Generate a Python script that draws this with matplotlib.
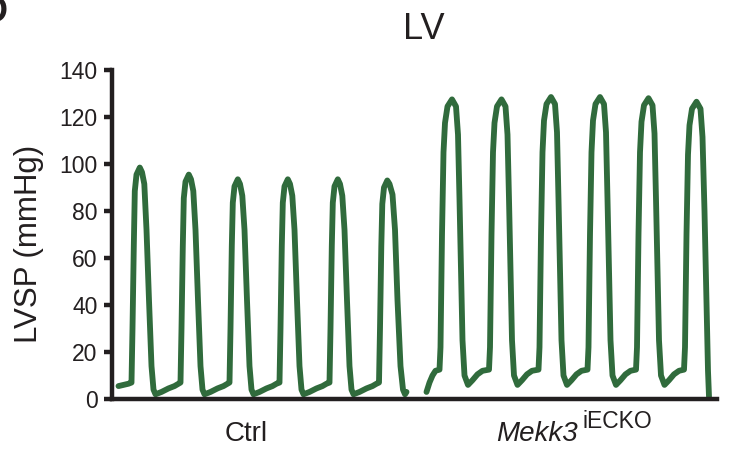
import matplotlib
matplotlib.use("Agg")
import matplotlib.pyplot as plt

# LV pressure traces (time in arbitrary units, pressure in mmHg)
ctrl_t = [7, 12, 17,
          20, 21, 22.3, 23.3, 25, 28.3, 30.5, 32.8, 35, 37.5, 40, 42, 44, 50, 57, 63, 67,
          69, 70, 71.3, 72.3, 74, 77.3, 79.5, 81.8, 84, 86.5, 89, 91, 93, 99, 106, 112, 116,
          118, 119, 120.3, 121.3, 123, 126.3, 128.5, 130.8, 133, 135.5, 138, 140, 142, 148, 155, 161, 165,
          168, 169, 170.3, 171.3, 173, 176.3, 178.5, 180.8, 183, 185.5, 188, 190, 192, 198, 205, 211, 215,
          218, 219, 220.3, 221.3, 223, 226.3, 228.5, 230.8, 233, 235.5, 238, 240, 242, 248, 255, 261, 265,
          267.5, 268.5, 269.8, 270.8, 272.5, 275.8, 278, 281, 283.5, 286, 289, 291.5, 293.5, 295]
ctrl_p = [5.5, 6, 6.5,
          7, 30, 65, 88.5, 95.5, 98.5, 96.5, 91.5, 72, 42, 14, 4, 2, 3, 4.5, 5.5, 6.5,
          7, 30, 65, 85.5, 92.5, 95.5, 93.5, 88.5, 72, 42, 14, 4, 2, 3, 4.5, 5.5, 6.5,
          7, 30, 65, 83.5, 90.5, 93.5, 91.5, 86.5, 72, 42, 14, 4, 2, 3, 4.5, 5.5, 6.5,
          7, 30, 65, 83.5, 90.5, 93.5, 91.5, 86.5, 72, 42, 14, 4, 2, 3, 4.5, 5.5, 6.5,
          7, 30, 65, 83.5, 90.5, 93.5, 91.5, 86.5, 72, 42, 14, 4, 2, 3, 4.5, 5.5, 6.5,
          7, 30, 65, 83, 90, 93, 91.5, 87, 72, 42, 14, 4, 2, 3]

mekk_t = [315, 318, 321, 324,
          328, 329, 330.5, 332, 333.5, 336, 340.5, 344.5, 346.5, 348, 349.5, 351, 353, 356.5, 361, 366, 371,
          377.5, 378.5, 380, 381.5, 383, 385.5, 390, 394, 396, 397.5, 399, 400.5, 402.5, 406, 410.5, 415.5, 420.5,
          427, 428, 429.5, 431, 432.5, 435, 439.5, 443.5, 445.5, 447, 448.5, 450, 452, 455.5, 460, 465, 470,
          476, 477, 478.5, 480, 481.5, 484, 488.5, 492.5, 494.5, 496, 497.5, 499, 501, 504.5, 509, 514, 519,
          524.5, 525.5, 527, 528.5, 530, 532.5, 537, 541, 543, 544.5, 546, 547.5, 549.5, 553, 557.5, 562.5, 567.5,
          572.5, 573.5, 575, 576.5, 578, 580.5, 585, 589, 591, 593, 594.8, 596.5, 597.5]
mekk_p = [3, 7, 10, 12,
          12.5, 22, 70, 105, 117.5, 124.5, 127.5, 124.5, 112.5, 85, 55, 25, 10, 6, 8, 10.5, 12,
          12.5, 22, 70, 105, 117.5, 124.5, 127.5, 124.5, 112.5, 85, 55, 25, 10, 6, 8, 10.5, 12,
          12.5, 22, 70, 105, 118.5, 125.5, 128.5, 125.5, 113.5, 85, 55, 25, 10, 6, 8, 10.5, 12,
          12.5, 22, 70, 105, 118.5, 125.5, 128.5, 125.5, 113.5, 85, 55, 25, 10, 6, 8, 10.5, 12,
          12.5, 22, 70, 105, 118, 125, 128, 125, 113, 85, 55, 25, 10, 6, 8, 10.5, 12,
          12.5, 22, 70, 104, 116.5, 123.5, 126.5, 123.5, 111.5, 80, 45, 12, 1]

y_ticks = [0, 20, 40, 60, 80, 100, 120, 140]
group_labels = ["Ctrl", "Mekk3"]
group_sup = "iECKO"
title = "LV"
ylabel = "LVSP (mmHg)"

trace_color = "#306b3c"
ink = "#231f20"

plt.rcParams['font.family'] = ['Liberation Sans', 'DejaVu Sans']

W, H = 729, 450
fig = plt.figure(figsize=(W / 100, H / 100), dpi=100)
ax = fig.add_axes([111.5 / W, 1 - 399 / H, (717 - 111.5) / W, (399 - 70) / H])

ax.plot(ctrl_t, ctrl_p, color=trace_color, lw=4.2, solid_joinstyle='round', solid_capstyle='round')
ax.plot(mekk_t, mekk_p, color=trace_color, lw=4.2, solid_joinstyle='round', solid_capstyle='round')

ax.set_xlim(0, 605.5)
ax.set_ylim(0, 140)
ax.set_yticks(y_ticks)
ax.set_xticks([])
for side in ['top', 'right']:
    ax.spines[side].set_visible(False)
for side in ['left', 'bottom']:
    ax.spines[side].set_linewidth(3.2)
    ax.spines[side].set_color(ink)
    ax.spines[side].set_capstyle('projecting')
ax.tick_params(axis='y', direction='out', length=6, width=3.2, color=ink,
               labelsize=16.5, labelcolor=ink, pad=4)

# title, axis label and group names
fig.text(424 / W, 1 - 39 / H, title, fontsize=26, color=ink, ha='center', va='baseline')
fig.text(29 / W, 1 - 244 / H, ylabel, fontsize=22.5, color=ink, rotation=90,
         ha='center', va='center')
fig.text(246.5 / W, 1 - 441 / H, group_labels[0], fontsize=20, color=ink,
         ha='center', va='baseline')
fig.text(496 / W, 1 - 441 / H, group_labels[1], fontsize=20, color=ink,
         style='italic', ha='left', va='baseline')
fig.text(582 / W, 1 - 428 / H, group_sup, fontsize=16.5, color=ink,
         ha='left', va='baseline')

# panel letter, cut off at the top-left corner as in the source figure
fig.text(8 / W, 1 - 22 / H, "D", fontsize=26, fontweight='bold', color=ink,
         ha='right', va='baseline')

fig.savefig("out.png", dpi=100)
